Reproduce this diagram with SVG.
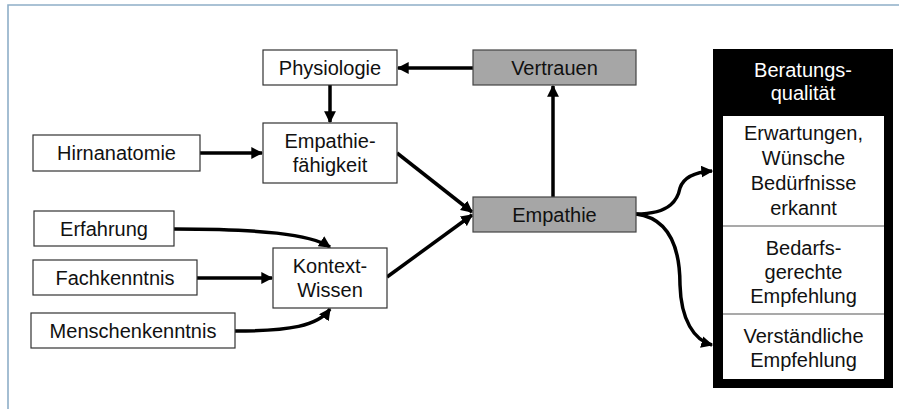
<svg xmlns="http://www.w3.org/2000/svg" width="899" height="409" viewBox="0 0 899 409">
<defs>
<style>
.box{fill:#fff;stroke:#333;stroke-width:1.2}
.gray{fill:#a6a6a6;stroke:#444;stroke-width:1.2}
.t{font-family:"Liberation Sans",Arial,sans-serif;font-size:20px;fill:#111;text-anchor:middle}
.w{fill:#fff}
.c{fill:none;stroke:#000;stroke-width:3.5}
.div{stroke:#555;stroke-width:1.2}
</style>
<marker id="ah" viewBox="0 0 10 10" refX="9" refY="5" markerWidth="3.4" markerHeight="3.4" orient="auto" markerUnits="strokeWidth">
<path d="M0,0 L10,5 L0,10 Z" fill="#000"/>
</marker>
</defs>
<rect width="899" height="409" fill="#fff"/>
<path d="M8,409 V5 H899" fill="none" stroke="#8eaec8" stroke-width="1.6"/>

<g id="connectors">
<path class="c" d="M473,68 H398" marker-end="url(#ah)"/>
<path class="c" d="M330,85 V122" marker-end="url(#ah)"/>
<path class="c" d="M200,153 H262" marker-end="url(#ah)"/>
<path class="c" d="M553,197 V86" marker-end="url(#ah)"/>
<path class="c" d="M397,153 L472,212" marker-end="url(#ah)"/>
<path class="c" d="M387,277 L472,215" marker-end="url(#ah)"/>
<path class="c" d="M174,229 C260,229 310,234 330,247" marker-end="url(#ah)"/>
<path class="c" d="M197,278 H272" marker-end="url(#ah)"/>
<path class="c" d="M235,331 C290,331 318,326 330,309" marker-end="url(#ah)"/>
<path class="c" d="M636,214 C672,214 678,198 680,188 C684,176 696,172 712,171" marker-end="url(#ah)"/>
<path class="c" d="M636,214 C668,218 680,245 680,285 C681,320 694,340 712,345" marker-end="url(#ah)"/>
</g>

<g id="physiologie">
<rect class="box" x="263" y="50" width="134" height="35"/>
<text class="t" x="330" y="75">Physiologie</text>
</g>
<g id="vertrauen">
<rect class="gray" x="473" y="50" width="163" height="35"/>
<text class="t" x="554.5" y="75">Vertrauen</text>
</g>
<g id="hirnanatomie">
<rect class="box" x="33" y="135" width="167" height="36"/>
<text class="t" x="116.5" y="160">Hirnanatomie</text>
</g>
<g id="empathiefaehigkeit">
<rect class="box" x="263" y="123" width="134" height="60"/>
<text class="t" x="330" y="148">Empathie-</text>
<text class="t" x="330" y="172">fähigkeit</text>
</g>
<g id="empathie">
<rect class="gray" x="473" y="197" width="163" height="35"/>
<text class="t" x="554.5" y="222">Empathie</text>
</g>
<g id="erfahrung">
<rect class="box" x="34" y="211" width="140" height="35"/>
<text class="t" x="104" y="236">Erfahrung</text>
</g>
<g id="fachkenntnis">
<rect class="box" x="33" y="260" width="164" height="35"/>
<text class="t" x="115" y="285">Fachkenntnis</text>
</g>
<g id="menschenkenntnis">
<rect class="box" x="31" y="313" width="204" height="35"/>
<text class="t" x="133" y="338">Menschenkenntnis</text>
</g>
<g id="kontextwissen">
<rect class="box" x="273" y="248" width="114" height="60"/>
<text class="t" x="330" y="273">Kontext-</text>
<text class="t" x="330" y="297">Wissen</text>
</g>
<g id="beratungsqualitaet">
<rect x="713" y="49" width="180" height="339" fill="#000"/>
<text class="t w" x="803" y="77">Beratungs-</text>
<text class="t w" x="803" y="100">qualität</text>
<rect x="723" y="116" width="161" height="263" fill="#fff"/>
<line class="div" x1="723" y1="226" x2="884" y2="226"/>
<line class="div" x1="723" y1="314" x2="884" y2="314"/>
<text class="t" x="803.5" y="140">Erwartungen,</text>
<text class="t" x="803.5" y="165">Wünsche</text>
<text class="t" x="803.5" y="190">Bedürfnisse</text>
<text class="t" x="803.5" y="215">erkannt</text>
<text class="t" x="803.5" y="255">Bedarfs-</text>
<text class="t" x="803.5" y="279">gerechte</text>
<text class="t" x="803.5" y="303">Empfehlung</text>
<text class="t" x="803.5" y="343">Verständliche</text>
<text class="t" x="803.5" y="367">Empfehlung</text>
</g>
</svg>
